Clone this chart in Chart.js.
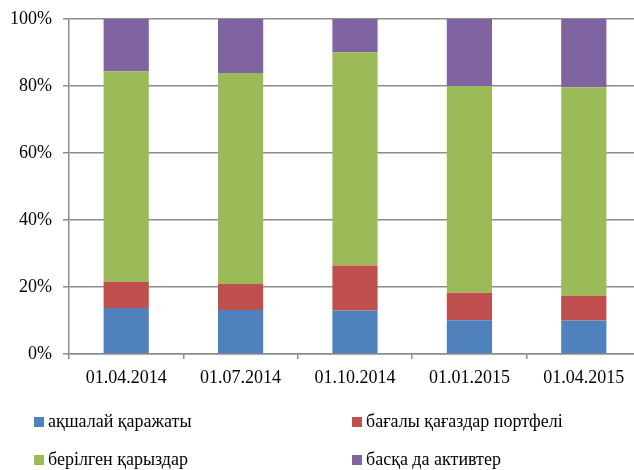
<!DOCTYPE html>
<html>
<head>
<meta charset="utf-8">
<script src="https://cdn.jsdelivr.net/npm/chart.js@4"></script>
<style>
  html, body { margin: 0; padding: 0; background: #fff; overflow: hidden; }
  #wrap { position: relative; width: 634px; height: 470px; overflow: hidden; }
  #chart { position: absolute; left: 0; top: 0; }
  .leg { position: absolute; font-family: "Liberation Serif", "Times New Roman", serif;
         font-size: 18px; color: #000; white-space: nowrap; line-height: 20px; }
  .leg i { display: inline-block; width: 10px; height: 10px; margin-right: 4px; vertical-align: 0px; }
</style>
</head>
<body>
<div id="wrap">
  <canvas id="chart" width="642" height="470"></canvas>
  <div id="legend"></div>
</div>
<script>
// Даты отчётности
const dates = ["01.04.2014", "01.07.2014", "01.10.2014", "01.01.2015", "01.04.2015"];

// Доли активов, %
const cash = [13.7, 13.1, 13.0, 10.1, 10.0];
const securities = [7.9, 7.8, 13.4, 8.2, 7.4];
const loans = [62.7, 63.0, 63.7, 61.7, 62.2];
const other = [15.7, 16.1, 9.9, 20.0, 20.4];

const seriesNames = ["ақшалай қаражаты", "бағалы қағаздар портфелі", "берілген қарыздар", "басқа да активтер"];
const seriesColors = ["#4F81BD", "#C0504D", "#9BBB59", "#8064A2"];
const yTicks = [0, 20, 40, 60, 80, 100];

const font = { family: "'Liberation Serif', 'Times New Roman', serif", size: 18 };
const gridColor = "#8c8c8c";

const datasets = [cash, securities, loans, other].map((d, i) => ({
  label: seriesNames[i],
  data: d,
  backgroundColor: seriesColors[i],
  borderWidth: 0,
  barPercentage: 0.395,
  categoryPercentage: 1,
}));

new Chart(document.getElementById("chart"), {
  type: "bar",
  data: { labels: dates, datasets: datasets },
  options: {
    responsive: false,
    animation: false,
    layout: { padding: { top: 19, right: 1, left: 0, bottom: 0 } },
    plugins: { legend: { display: false }, tooltip: { enabled: false } },
    scales: {
      x: {
        stacked: true,
        offset: true,
        grid: { drawOnChartArea: false, color: gridColor, lineWidth: 1.5, tickLength: 5 },
        border: { color: gridColor, width: 1.5 },
        ticks: { font: font, color: "#000", padding: 8, maxRotation: 0 },
        afterFit: (s) => { s.height = 116; s.paddingLeft = 0; s.paddingRight = 0; },
      },
      y: {
        stacked: true,
        min: 0,
        max: 100,
        afterBuildTicks: (s) => { s.ticks = yTicks.map((v) => ({ value: v })); },
        grid: { color: gridColor, lineWidth: 1.5, tickLength: 6 },
        border: { color: gridColor, width: 1.5 },
        ticks: { font: font, color: "#000", padding: 11, callback: (v) => v + "%" },
        afterFit: (s) => { s.width = 69; s.paddingTop = 0; s.paddingBottom = 0; },
      },
    },
  },
});

// Легенда в две колонки
const legPos = [[34, 411], [352, 411], [34, 449], [352, 449]];
const legend = document.getElementById("legend");
seriesNames.forEach((name, i) => {
  const el = document.createElement("div");
  el.className = "leg";
  el.style.left = legPos[i][0] + "px";
  el.style.top = legPos[i][1] + "px";
  el.innerHTML = '<i style="background:' + seriesColors[i] + '"></i>' + name;
  legend.appendChild(el);
});
</script>
</body>
</html>
